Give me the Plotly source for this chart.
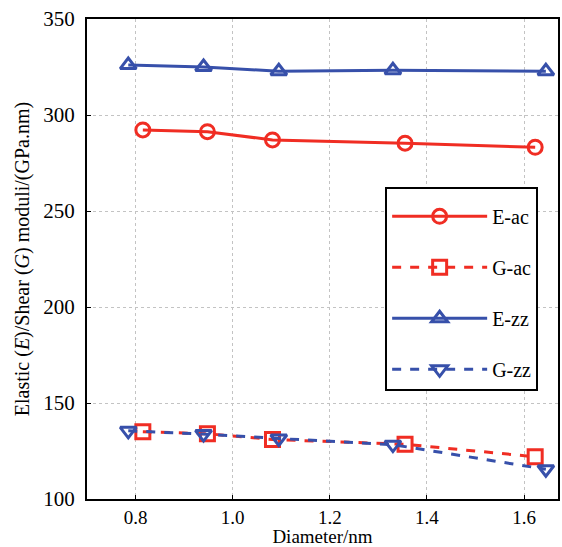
import plotly.graph_objects as go

# Data
x_ac = [0.815, 0.948, 1.082, 1.355, 1.623]
x_zz = [0.785, 0.940, 1.095, 1.330, 1.645]
E_ac = [292.2, 291.3, 287.0, 285.3, 283.2]
G_ac = [135.0, 134.0, 131.0, 128.5, 122.0]
E_zz = [326.0, 325.0, 322.8, 323.3, 322.8]
G_zz = [135.5, 133.8, 131.5, 128.3, 115.5]
x_ticks = [0.8, 1.0, 1.2, 1.4, 1.6]
x_ticklabels = ["0.8", "1.0", "1.2", "1.4", "1.6"]
y_ticks = [100, 150, 200, 250, 300, 350]

RED = "rgb(240,45,35)"
BLUE = "rgb(55,80,170)"
FONT = "Liberation Serif"

fig = go.Figure()
series = [
    ("E-ac", x_ac, E_ac, RED, "solid", "circle-open"),
    ("G-ac", x_ac, G_ac, RED, "dash", "square-open"),
    ("E-zz", x_zz, E_zz, BLUE, "solid", "triangle-up-open"),
    ("G-zz", x_zz, G_zz, BLUE, "dash", "triangle-down-open"),
]
for name, xs, ys, col, dash, sym in series:
    fig.add_trace(go.Scatter(
        x=xs, y=ys, name=name, mode="lines+markers", legendgroup=name,
        line=dict(color=col, width=3, dash=dash),
        marker=dict(symbol=sym, size=14, color=col, line=dict(color=col, width=3)),
    ))

axis_common = dict(
    showline=True, linecolor="black", linewidth=2, mirror=True,
    ticks="inside", ticklen=4, tickcolor="black",
    showgrid=True, gridcolor="rgb(195,195,195)", griddash="dot", gridwidth=1,
    zeroline=False,
)
fig.update_xaxes(range=[0.7, 1.67], tickvals=x_ticks, ticktext=x_ticklabels,
                 tickfont=dict(family=FONT, size=19, color="black"),
                 title=dict(text="Diameter/nm", standoff=2,
                            font=dict(family=FONT, size=19, color="black")),
                 **axis_common)
fig.update_yaxes(range=[100, 350], tickvals=y_ticks,
                 tickfont=dict(family=FONT, size=21, color="black"),
                 ticklabelstandoff=6,
                 title=dict(text="Elastic (<i>E</i>)/Shear (<i>G</i>) moduli/(GPa.nm)", standoff=8,
                            font=dict(family=FONT, size=20, color="black")),
                 **axis_common)

fig.update_layout(
    width=562, height=547,
    margin=dict(l=87, r=4, t=19, b=48, autoexpand=False),
    plot_bgcolor="white", paper_bgcolor="white",
    legend=dict(x=0.633, y=0.65, xanchor="left", yanchor="top",
                bgcolor="white", bordercolor="black", borderwidth=2,
                font=dict(family=FONT, size=20, color="black"),
                title=dict(text=" ", font=dict(size=6)),
                tracegroupgap=22, itemwidth=95),
)
fig.write_html("out.html")
